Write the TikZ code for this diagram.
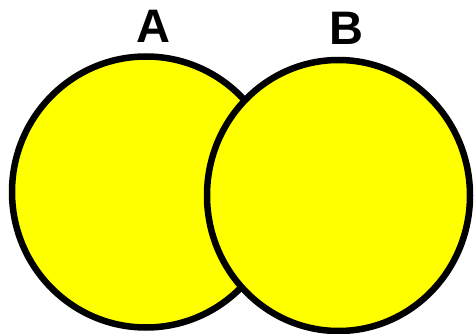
\documentclass[tikz,border=0pt]{standalone}
\usepackage{fontspec}
\setmainfont{Liberation Sans}
\usetikzlibrary{positioning,shapes.geometric}
\definecolor{amarillo}{RGB}{255,255,0}

\begin{document}
\begin{tikzpicture}[x=1pt, y=-1pt,
    conjunto/.style={ellipse, draw=black, fill=amarillo, line width=6.5pt, inner sep=0pt},
    etiqueta/.style={font=\fontsize{47}{50}\selectfont\bfseries, anchor=base, inner sep=0pt}]
  \useasboundingbox (0,0) rectangle (474,334);
  \node[conjunto, minimum width=268pt, minimum height=271pt] (a) at (146,192) {};
  \node[conjunto, minimum width=263pt, minimum height=271pt] (b) at (338.5,195.5) {};
  \node[etiqueta] (la) at (153.5,42.5) {A};
  \node[etiqueta] (lb) at (346,45) {B};
\end{tikzpicture}
\end{document}
